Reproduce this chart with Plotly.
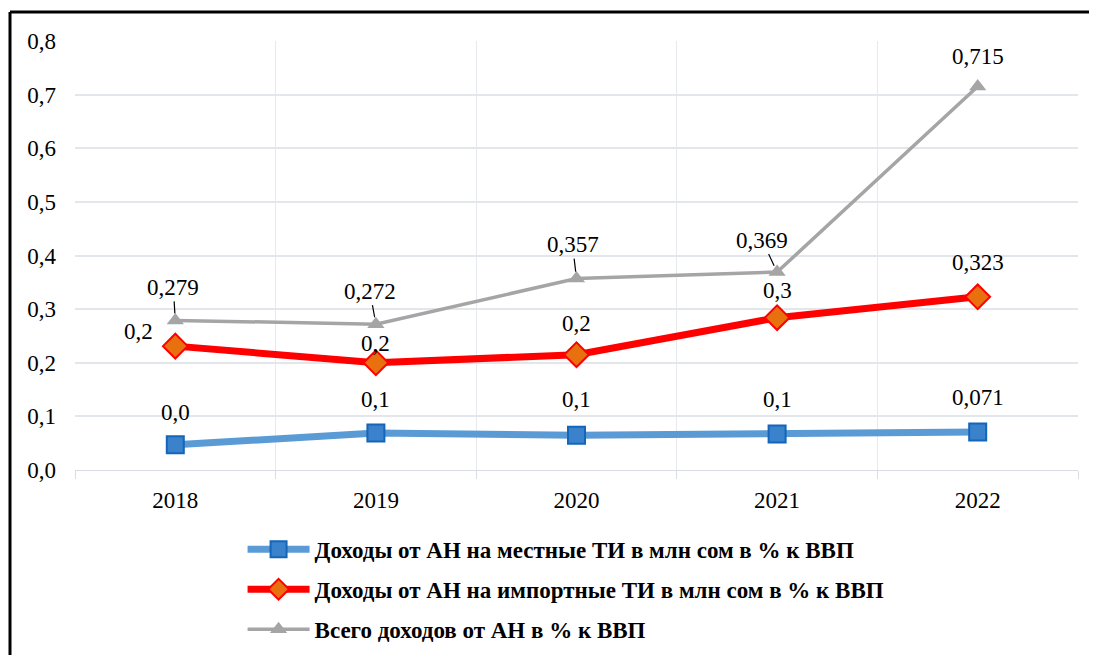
import plotly.graph_objects as go

years = ["2018", "2019", "2020", "2021", "2022"]

local_vals = [0.047, 0.069, 0.065, 0.067, 0.071]
local_labels = ["0,0", "0,1", "0,1", "0,1", "0,071"]

import_vals = [0.231, 0.200, 0.215, 0.284, 0.323]
import_labels = ["0,2", "0,2", "0,2", "0,3", "0,323"]

total_vals = [0.279, 0.272, 0.357, 0.369, 0.715]
total_labels = ["0,279", "0,272", "0,357", "0,369", "0,715"]

names = [
    "Доходы от АН на местные ТИ в млн сом в % к ВВП",
    "Доходы от АН на импортные ТИ в млн сом в % к ВВП",
    "Всего доходов от АН в % к ВВП",
]

y_ticks = [0, 0.1, 0.2, 0.3, 0.4, 0.5, 0.6, 0.7, 0.8]

# label offsets (pixels)
local_shift = [(0, 32), (0, 34), (0, 36), (0, 35), (0, 34)]
import_shift = [(-37, 15), (0, 19), (0, 31), (0, 27), (0, 34)]
total_off = [(-2, -33), (-6, -33), (-4, -34), (-15, -32), (0, -30)]
total_arrow = [True, True, True, True, False]

SERIF = "'Liberation Serif', 'Times New Roman', serif"
FS = 23

fig = go.Figure()

fig.add_trace(go.Scatter(
    x=years, y=local_vals, name=names[0], mode="lines+markers",
    line=dict(color="#5b9bd5", width=7),
    marker=dict(symbol="square", size=17, color="#3b82cc",
                line=dict(color="#1565b8", width=2)),
    legendgroup="a",
))
fig.add_trace(go.Scatter(
    x=years, y=import_vals, name=names[1], mode="lines+markers",
    line=dict(color="#ff0000", width=7),
    marker=dict(symbol="diamond", size=19, color="#e8700e",
                line=dict(color="#ff0000", width=2)),
    legendgroup="b",
))
fig.add_trace(go.Scatter(
    x=years, y=total_vals, name=names[2], mode="lines+markers",
    line=dict(color="#a5a5a5", width=3.5),
    marker=dict(symbol="triangle-up", size=15, color="#a5a5a5"),
    legendgroup="c",
))

annotations = []
lab_font = dict(family=SERIF, size=FS, color="black")
for i, (y, t, (dx, dy)) in enumerate(zip(local_vals, local_labels, local_shift)):
    annotations.append(dict(x=i, y=y, xref="x", yref="y", text=t, showarrow=False,
                            xshift=dx, yshift=dy, font=lab_font))
for i, (y, t, (dx, dy)) in enumerate(zip(import_vals, import_labels, import_shift)):
    annotations.append(dict(x=i, y=y, xref="x", yref="y", text=t, showarrow=False,
                            xshift=dx, yshift=dy, font=lab_font))
for i, (y, t, (ax, ay), arr) in enumerate(zip(total_vals, total_labels, total_off, total_arrow)):
    if arr:
        annotations.append(dict(x=i, y=y, xref="x", yref="y", text=t, showarrow=True,
                                ax=ax, ay=ay, arrowhead=0, arrowwidth=1.2,
                                arrowcolor="black", standoff=7,
                                font=lab_font))
    else:
        annotations.append(dict(x=i, y=y, xref="x", yref="y", text=t, showarrow=False,
                                xshift=-ax, yshift=-ay, font=lab_font))

fig.update_layout(
    width=1089, height=647,
    margin=dict(l=67, r=19, t=33, b=185, autoexpand=False),
    paper_bgcolor="white", plot_bgcolor="white",
    separators=", ",
    font=dict(family=SERIF, size=FS, color="black"),
    showlegend=True,
    legend=dict(
        x=0.4896, xanchor="center", y=-0.135, yanchor="top",
        orientation="v", tracegroupgap=7,
        font=dict(family=SERIF, size=FS, color="black", weight="bold"),
        itemwidth=62, bgcolor="rgba(0,0,0,0)",
    ),
    annotations=annotations,
    shapes=[
        dict(type="line", xref="paper", yref="paper",
             x0=-0.0648, x1=-0.0648, y0=1.0676, y1=-0.6,
             line=dict(color="black", width=3)),
        dict(type="line", xref="paper", yref="paper",
             x0=-0.0648, x1=1.1, y0=1.0676, y1=1.0676,
             line=dict(color="black", width=3)),
    ],
)

fig.update_xaxes(
    type="category", range=[-0.5, 4.5],
    tickson="boundaries", ticks="outside", ticklen=8, tickcolor="#d9dde3",
    showgrid=True, gridcolor="#e6e9ee", gridwidth=1,
    showline=True, linecolor="#d9dde3", linewidth=1,
    tickfont=dict(family=SERIF, size=FS, color="black"),
    ticklabelstandoff=9,
)
fig.update_yaxes(
    range=[0, 0.8], tickvals=y_ticks, tickformat=".1f",
    showgrid=True, gridcolor="#e3e6eb", gridwidth=1.5,
    zeroline=False, showline=False,
    tickfont=dict(family=SERIF, size=FS, color="black"),
    ticklabelstandoff=18,
)

fig.write_html("out.html")
